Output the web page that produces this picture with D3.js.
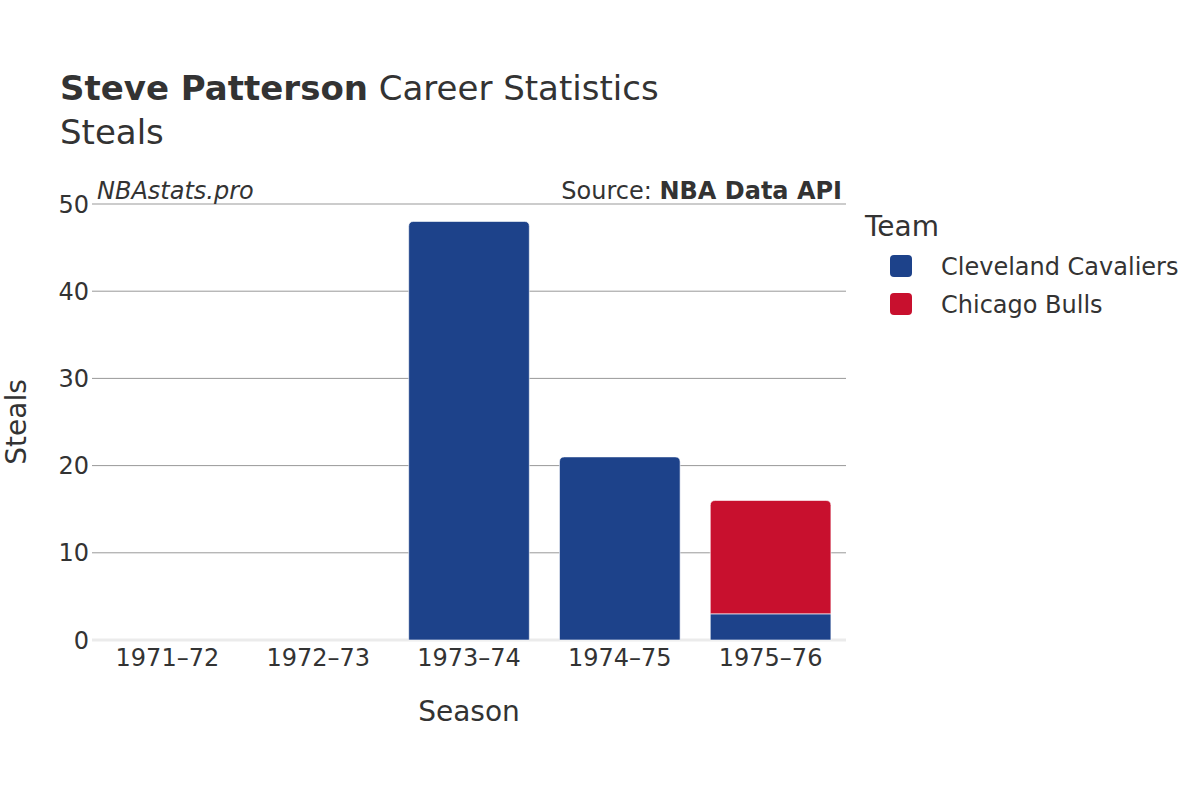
<!DOCTYPE html>
<html>
<head>
<meta charset="utf-8">
<script src="https://cdn.jsdelivr.net/npm/d3@7"></script>
<style>
  body { margin: 0; background: #fff; }
  svg text { font-family: "DejaVu Sans", sans-serif; fill: #333; }
</style>
</head>
<body>
<svg id="chart" width="1200" height="800"></svg>
<script>
// chart data
const seasons = ["1971–72", "1972–73", "1973–74", "1974–75", "1975–76"];
const teams = ["Cleveland Cavaliers", "Chicago Bulls"];
const teamColors = ["#1d428a", "#c8102e"];
const cavaliersSteals = [0, 0, 48, 21, 3];
const bullsSteals = [0, 0, 0, 0, 13];
const yTicks = [0, 10, 20, 30, 40, 50];

const svg = d3.select("#chart");
const margin = { top: 204, right: 354, bottom: 160, left: 92 };
const width = 1200 - margin.left - margin.right;
const height = 800 - margin.top - margin.bottom;

const x = d3.scaleBand().domain(seasons).range([0, width]).paddingInner(0.2).paddingOuter(0.1);
const y = d3.scaleLinear().domain([0, 50]).range([height, 0]);
const color = d3.scaleOrdinal().domain(teams).range(teamColors);

const g = svg.append("g").attr("transform", `translate(${margin.left},${margin.top})`);

// gridlines
g.selectAll("line.grid")
  .data(yTicks.filter(t => t > 0))
  .enter().append("line")
  .attr("class", "grid")
  .attr("x1", 0).attr("x2", width)
  .attr("y1", d => y(d)).attr("y2", d => y(d))
  .attr("stroke", "#999").attr("stroke-width", 1);

// zero line
g.append("line")
  .attr("x1", 0).attr("x2", width)
  .attr("y1", y(0)).attr("y2", y(0))
  .attr("stroke", "#ebebeb").attr("stroke-width", 3);

// stacked data
const rows = seasons.map((s, i) => ({
  season: s,
  "Cleveland Cavaliers": cavaliersSteals[i],
  "Chicago Bulls": bullsSteals[i]
}));
const stacked = d3.stack().keys(teams)(rows);

// find top segment per season so only it gets rounded corners
const topKey = {};
rows.forEach(r => {
  teams.forEach(t => { if (r[t] > 0) topKey[r.season] = t; });
});

function barPath(x0, y0, w, h, r) {
  r = Math.min(r, h, w / 2);
  return `M${x0},${y0 + h} V${y0 + r} Q${x0},${y0} ${x0 + r},${y0}
    H${x0 + w - r} Q${x0 + w},${y0} ${x0 + w},${y0 + r} V${y0 + h} Z`;
}

stacked.forEach(layer => {
  g.selectAll(null)
    .data(layer.filter(d => d[1] - d[0] > 0))
    .enter().append("path")
    .attr("d", d => {
      const bx = x(d.data.season);
      const by = y(d[1]);
      const bh = y(d[0]) - y(d[1]);
      const rad = topKey[d.data.season] === layer.key ? 5 : 0;
      return barPath(bx, by, x.bandwidth(), bh, rad);
    })
    .attr("fill", color(layer.key))
    .attr("stroke", "rgba(255,255,255,0.6)")
    .attr("stroke-width", 1);
});

// y axis labels
g.selectAll("text.ytick")
  .data(yTicks)
  .enter().append("text")
  .attr("x", -3)
  .attr("y", d => y(d))
  .attr("dy", "0.36em")
  .attr("text-anchor", "end")
  .style("font-size", "24px")
  .text(d => d);

// x axis labels
g.selectAll("text.xtick")
  .data(seasons)
  .enter().append("text")
  .attr("x", d => x(d) + x.bandwidth() / 2)
  .attr("y", height + 26)
  .attr("text-anchor", "middle")
  .style("font-size", "24px")
  .text(d => d);

// axis titles
svg.append("text")
  .attr("x", margin.left + width / 2)
  .attr("y", 721)
  .attr("text-anchor", "middle")
  .style("font-size", "28px")
  .text("Season");

svg.append("text")
  .attr("transform", `translate(26,${margin.top + height / 2}) rotate(-90)`)
  .attr("text-anchor", "middle")
  .style("font-size", "28px")
  .text("Steals");

// title
const title = svg.append("text").attr("x", 60).attr("y", 100).style("font-size", "34px");
title.append("tspan").style("font-weight", "bold").text("Steve Patterson");
title.append("tspan").text(" Career Statistics");
svg.append("text").attr("x", 60).attr("y", 144).style("font-size", "34px").text("Steals");

// watermark and source
svg.append("text")
  .attr("x", 97).attr("y", 199)
  .style("font-size", "24px").style("font-style", "italic")
  .text("NBAstats.pro");
const src = svg.append("text")
  .attr("x", 842).attr("y", 199)
  .attr("text-anchor", "end")
  .style("font-size", "24px");
src.append("tspan").text("Source: ");
src.append("tspan").style("font-weight", "bold").text("NBA Data API");

// legend
const legend = svg.append("g").attr("transform", "translate(865,0)");
legend.append("text").attr("x", 0).attr("y", 236).style("font-size", "28px").text("Team");
const item = legend.selectAll("g.item")
  .data(teams)
  .enter().append("g")
  .attr("transform", (d, i) => `translate(0,${266 + i * 38})`);
item.append("rect")
  .attr("x", 25).attr("y", -11)
  .attr("width", 22).attr("height", 22)
  .attr("rx", 4)
  .attr("fill", d => color(d));
item.append("text")
  .attr("x", 76).attr("y", 0).attr("dy", "0.36em")
  .style("font-size", "24px")
  .text(d => d);
</script>
</body>
</html>
